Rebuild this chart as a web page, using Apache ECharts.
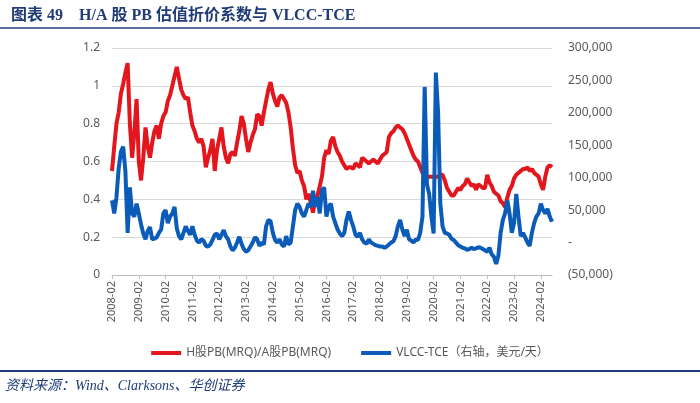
<!DOCTYPE html>
<html>
<head>
<meta charset="utf-8">
<script src="https://cdn.jsdelivr.net/npm/echarts@6/dist/echarts.min.js"></script>
<style>
  html, body { margin: 0; padding: 0; background: #fff; }
  #main { width: 700px; height: 403px; }
</style>
</head>
<body>
<div id="main"></div>
<script>
// 月度序列 2008-02 ~ 2024-07
var months = [];
(function () {
    var y = 2008, m = 2;
    while (y < 2024 || (y === 2024 && m <= 7)) {
        months.push(y + '-' + (m < 10 ? '0' + m : m));
        m++;
        if (m > 12) { m = 1; y++; }
    }
})();

// H股PB(MRQ)/A股PB(MRQ)
var haRatio = [
    0.55, 0.68, 0.80, 0.86, 0.96, 1.01, 1.07, 1.12, 0.80, 0.62,
    0.75, 0.93, 0.60, 0.50, 0.62, 0.78, 0.68, 0.62, 0.70, 0.76,
    0.79, 0.72, 0.80, 0.84, 0.86, 0.92, 0.95, 1.00, 1.05, 1.10,
    1.04, 0.98, 0.95, 0.93, 0.94, 0.86, 0.79, 0.76, 0.72, 0.70,
    0.72, 0.68, 0.57, 0.62, 0.66, 0.72, 0.55, 0.66, 0.72, 0.78,
    0.68, 0.62, 0.59, 0.64, 0.65, 0.63, 0.70, 0.76, 0.84, 0.80,
    0.72, 0.65, 0.70, 0.74, 0.77, 0.85, 0.84, 0.79, 0.86, 0.92,
    0.98, 1.02, 0.96, 0.92, 0.89, 0.94, 0.95, 0.93, 0.91, 0.86,
    0.78, 0.67, 0.58, 0.54, 0.55, 0.50, 0.47, 0.40, 0.43, 0.38,
    0.33, 0.40, 0.42, 0.47, 0.52, 0.62, 0.66, 0.64, 0.71, 0.73,
    0.68, 0.65, 0.63, 0.60, 0.58, 0.56, 0.57, 0.57, 0.56, 0.59,
    0.58, 0.57, 0.62, 0.61, 0.60, 0.59, 0.60, 0.61, 0.60, 0.59,
    0.61, 0.63, 0.64, 0.65, 0.73, 0.75, 0.76, 0.78, 0.79, 0.78,
    0.77, 0.75, 0.72, 0.69, 0.66, 0.63, 0.61, 0.60, 0.57, 0.54,
    0.52, 0.52, 0.52, 0.52, 0.52, 0.52, 0.52, 0.53, 0.53, 0.50,
    0.46, 0.44, 0.42, 0.42, 0.44, 0.46, 0.45, 0.47, 0.48, 0.51,
    0.49, 0.47, 0.48, 0.45, 0.48, 0.47, 0.46, 0.46, 0.53, 0.49,
    0.47, 0.44, 0.43, 0.42, 0.39, 0.38, 0.36, 0.41, 0.45, 0.47,
    0.51, 0.53, 0.54, 0.55, 0.56, 0.56, 0.57, 0.55, 0.56, 0.54,
    0.53, 0.52, 0.48, 0.45, 0.52, 0.57, 0.58, 0.57
];

// VLCC-TCE（美元/天）
var vlccTce = [
    65000, 45000, 70000, 115000, 140000, 148000, 110000, 15000, 85000, 45000,
    40000, 60000, 45000, 28000, 14000, 5000, 18000, 24000, 5000, 6000,
    8000, 15000, 20000, 45000, 50000, 30000, 40000, 45000, 55000, 22000,
    10000, 5000, 15000, 25000, 18000, 12000, 25000, 12000, 3000, 0,
    5000, 3000, -5000, -6000, -3000, 4000, 12000, 14000, 5000, 12000,
    19000, 10000, 5000, -6000, -12000, -8000, 0, 9000, -2000, -10000,
    -14000, -12000, -6000, 0, 8000, 5000, -5000, 0, -3000, 25000,
    35000, 33000, 15000, 4000, 0, 5000, -3000, -6000, 10000, -3000,
    0, 25000, 50000, 60000, 55000, 45000, 40000, 50000, 60000, 55000,
    80000, 55000, 70000, 45000, 80000, 85000, 40000, 55000, 60000, 40000,
    30000, 20000, 14000, 10000, 15000, 35000, 48000, 35000, 25000, 12000,
    9000, 15000, 5000, 0, -2000, 5000, 0, -2000, -4000, -5000,
    -6000, -6000, -8000, -6000, -3000, 0, 2000, 10000, 25000, 35000,
    20000, 10000, 20000, 5000, 3000, 0, 5000, 4000, 15000, 40000,
    240000, 90000, 75000, 40000, 14000, 262000, 200000, 60000, 25000, 15000,
    14000, 12000, 6000, 4000, 0, -4000, -6000, -8000, -9000, -11000,
    -10000, -8000, -10000, -9000, -7000, -8000, -10000, -12000, -14000, -8000,
    -18000, -22000, -33000, -20000, 15000, 35000, 45000, 65000, 45000, 15000,
    30000, 75000, 40000, 10000, 15000, 8000, 0, -5000, 15000, 30000,
    40000, 45000, 60000, 50000, 45000, 52000, 40000, 32000
];

var leftMin = 0, leftMax = 1.2, leftStep = 0.2;
var rightMin = -50000, rightMax = 300000, rightStep = 50000;

function fmtThousand(v) {
    return String(v).replace(/\B(?=(\d{3})+(?!\d))/g, ',');
}

var labelColor = '#595959';
var navy = '#1f3c78';

var myChart = echarts.init(document.getElementById('main'));
var option = {
    backgroundColor: '#fff',
    animation: false,
    title: {
        text: '图表 49    H/A 股 PB 估值折价系数与 VLCC-TCE',
        left: 6,
        top: 3,
        textStyle: {
            fontFamily: '"Liberation Serif", "Noto Sans CJK SC", serif',
            fontSize: 16,
            fontWeight: 'bold',
            color: navy
        }
    },
    graphic: [
        {type: 'line', shape: {x1: 0, y1: 28, x2: 700, y2: 28}, style: {stroke: navy, lineWidth: 1.5}},
        {type: 'line', shape: {x1: 0, y1: 371, x2: 700, y2: 371}, style: {stroke: navy, lineWidth: 2}},
        {
            type: 'text', left: 5, top: 379,
            style: {
                text: '资料来源：Wind、Clarksons、华创证券',
                font: 'italic 14px "Liberation Serif", "Noto Sans CJK SC", serif',
                fill: navy
            }
        }
    ],
    legend: {
        bottom: 39,
        left: 'center',
        itemGap: 30,
        itemWidth: 30,
        itemHeight: 4,
        icon: 'rect',
        textStyle: {color: labelColor, fontSize: 12, fontFamily: '"Noto Sans", "Noto Sans CJK SC", sans-serif'},
        data: ['H股PB(MRQ)/A股PB(MRQ)', 'VLCC-TCE（右轴，美元/天）']
    },
    grid: {left: 112, right: 148, top: 48, bottom: 128},
    xAxis: {
        type: 'category',
        boundaryGap: false,
        data: months,
        axisLine: {lineStyle: {color: '#bfbfbf'}},
        axisTick: {
            show: true,
            length: 4,
            lineStyle: {color: '#bfbfbf'},
            interval: function (idx, val) { return val.slice(5) === '02'; }
        },
        axisLabel: {
            rotate: 90,
            margin: 6,
            color: labelColor,
            fontSize: 11,
            fontFamily: '"Noto Sans", sans-serif',
            interval: function (idx, val) { return val.slice(5) === '02'; }
        }
    },
    yAxis: [
        {
            type: 'value',
            min: leftMin, max: leftMax, interval: leftStep,
            axisLine: {show: false},
            axisTick: {show: false},
            splitLine: {lineStyle: {color: '#d9d9d9'}},
            axisLabel: {
                color: labelColor, fontSize: 12, margin: 12,
                fontFamily: '"Noto Sans", sans-serif',
                formatter: function (v) { return String(Math.round(v * 10) / 10); }
            }
        },
        {
            type: 'value',
            min: rightMin, max: rightMax, interval: rightStep,
            axisLine: {show: false},
            axisTick: {show: false},
            splitLine: {show: false},
            axisLabel: {
                color: labelColor, fontSize: 12, margin: 16,
                fontFamily: '"Noto Sans", sans-serif',
                formatter: function (v) {
                    if (v === 0) return '-';
                    if (v < 0) return '(' + fmtThousand(-v) + ')';
                    return fmtThousand(v);
                }
            }
        }
    ],
    series: [
        {
            name: 'H股PB(MRQ)/A股PB(MRQ)',
            type: 'line',
            data: haRatio,
            showSymbol: false,
            symbol: 'none',
            lineStyle: {color: '#e3151d', width: 4},
            itemStyle: {color: '#e3151d'}
        },
        {
            name: 'VLCC-TCE（右轴，美元/天）',
            type: 'line',
            yAxisIndex: 1,
            data: vlccTce,
            showSymbol: false,
            symbol: 'none',
            lineStyle: {color: '#0a5cb8', width: 4},
            itemStyle: {color: '#0a5cb8'}
        }
    ]
};
myChart.setOption(option);
</script>
</body>
</html>
